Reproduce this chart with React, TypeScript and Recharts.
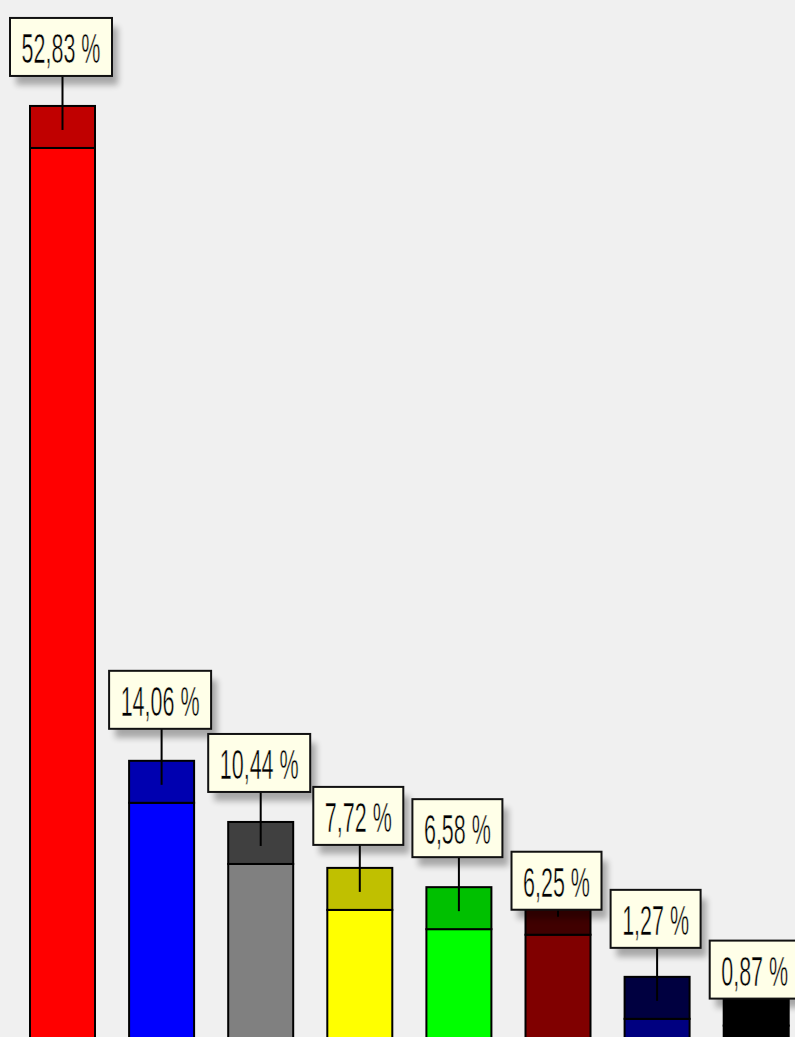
import React from 'react';
import { BarChart, Bar, XAxis, YAxis, LabelList } from 'recharts';

const parties = ['Partei 1', 'Partei 2', 'Partei 3', 'Partei 4', 'Partei 5', 'Partei 6', 'Partei 7', 'Partei 8'];
const shares = [52.83, 14.06, 10.44, 7.72, 6.58, 6.25, 1.27, 0.87];
const shareLabels = ['52,83 %', '14,06 %', '10,44 %', '7,72 %', '6,58 %', '6,25 %', '1,27 %', '0,87 %'];

// front face / top face colours per bar
const frontColors = ['#ff0000', '#0000ff', '#808080', '#ffff00', '#00ff00', '#800000', '#000080', '#000000'];
const capColors = ['#c00000', '#0000b0', '#404040', '#c0c000', '#00c000', '#400000', '#000040', '#000000'];
// how far each label box sits above its anchor (px), as in the original layout
const labelLift = [54, 56, 54, 47, 54, 7, 53, 9];

const data = parties.map((name, i) => ({ name, share: shares[i], label: shareLabels[i] }));

const CAP = 42;

function BarShape(props: any) {
  const { x, y, width, height, index } = props;
  return (
    <g>
      <rect x={x} y={y + CAP} width={width} height={height} fill={frontColors[index]} stroke="#000" strokeWidth={2} />
      <rect x={x} y={y} width={width} height={CAP} fill={capColors[index]} stroke="#000" strokeWidth={2} />
    </g>
  );
}

function ShareLabel(props: any) {
  const { x, y, width, value } = props;
  const index = props.index ?? shareLabels.indexOf(value);
  const ax = x + width / 2;
  const ay = y + 24;
  const digits = String(value).replace(/[^0-9]/g, '').length;
  const boxW = digits * 12 + 54;
  const boxH = 58;
  const bottom = ay - labelLift[index];
  const top = bottom - boxH;
  const left = ax - 1.5 - boxW / 2;
  const fid = `lblshadow-${index}`;
  return (
    <g>
      <defs>
        <filter id={fid} x="-20%" y="-20%" width="150%" height="160%">
          <feGaussianBlur stdDeviation={3} />
        </filter>
      </defs>
      <line x1={ax} y1={bottom} x2={ax} y2={ay} stroke="#000" strokeWidth={2} />
      <rect x={left + 6} y={top + 9} width={boxW} height={boxH} fill="#000" opacity={0.3} filter={`url(#${fid})`} />
      <rect x={left} y={top} width={boxW} height={boxH} fill="#ffffe8" stroke="#111" strokeWidth={2} />
      <text
        x={0}
        y={0}
        transform={`translate(${left + boxW / 2},${top + 45}) scale(0.5,1)`}
        textAnchor="middle"
        fontFamily="'Liberation Sans', Arial, sans-serif"
        fontSize={43}
        fill="#000"
        stroke="#ffffe8"
        strokeWidth={0.6}
      >
        {value}
      </text>
    </g>
  );
}

export default function App() {
  return (
    <div
      style={{
        position: 'absolute',
        left: 0,
        top: 0,
        width: 795,
        height: 1037,
        overflow: 'hidden',
        background: '#f0f0f0',
      }}
    >
      <BarChart
        width={820}
        height={1037}
        data={data}
        margin={{ top: 69.3, right: 14.2, bottom: 38.7, left: 13 }}
      >
        <XAxis dataKey="name" hide />
        <YAxis domain={[0, 55]} hide />
        <Bar dataKey="share" barSize={65} shape={<BarShape />} isAnimationActive={false}>
          <LabelList dataKey="label" content={<ShareLabel />} />
        </Bar>
      </BarChart>
    </div>
  );
}
